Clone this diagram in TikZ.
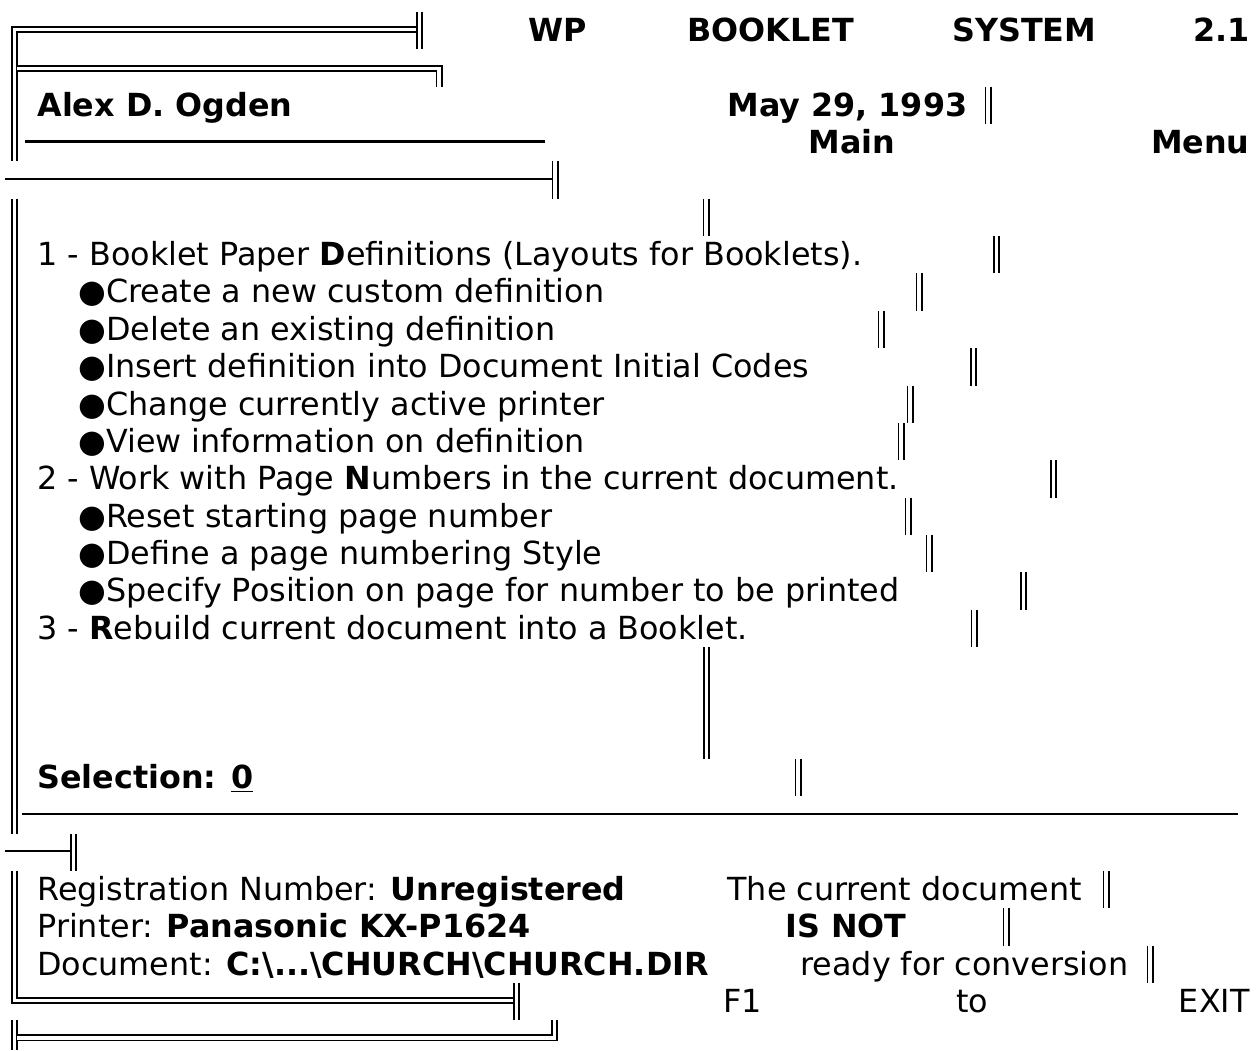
\documentclass[tikz,border=0pt]{standalone}
\usepackage{fontspec}
\setmainfont{DejaVu Sans}
\usepackage{tikz}
\usetikzlibrary{positioning}

\begin{document}
\begin{tikzpicture}[x=0.5pt,y=-0.5pt,
    txt/.style={anchor=base west,inner sep=0pt,font=\fontsize{15.9}{19}\selectfont},
    txtr/.style={txt,anchor=base east},
    hd/.style={txt,font=\fontsize{15.9}{19}\selectfont\bfseries},
    hdr/.style={hd,anchor=base east},
    dbl/.style={draw=black,double=white,line width=0.95pt,double distance=1.6pt},
    sgl/.style={draw=black,line width=1.2pt}]
  \useasboundingbox (0,0) rectangle (1257,1050);

  % Title frame
  \draw[dbl] (417,29.5) -- (14.5,29.5) -- (14.5,161.4);
  \draw[dbl] (419.5,12) -- (419.5,49.35);
  \draw[dbl] (17,68.1) -| (439,86.7);
  \node[hd] (wp) at (528,41.5) {WP};
  \node[hd] (booklet) at (687,41.5) {BOOKLET};
  \node[hd] (system) at (952,41.5) {SYSTEM};
  \node[hdr] (version) at (1250,41.5) {2.1};

  % Author and date
  \node[hd] (author) at (37,116.2) {Alex D. Ogden};
  \node[hd] (date) at (727,116.2) {May 29, 1993};
  \draw[dbl] (988,86.7) -- (988,124.05);

  % Main menu heading
  \draw[sgl] (25,141.55) -- (545,141.55);
  \node[hd] (main) at (808,153.5) {Main};
  \node[hdr] (menu) at (1250,153.5) {Menu};
  \draw[sgl] (5,178.9) -- (552,178.9);
  \draw[dbl] (555,161.4) -- (555,198.75);

  % Menu body frame
  \draw[dbl] (14.5,198.75) -- (14.5,833.7);
  \draw[dbl] (706,198.75) -- (706,236.1);

  % Option 1
  \node[txt] (opt1) at (37,265.6) {1 - Booklet Paper \textbf{D}efinitions (Layouts for Booklets).};
  \draw[dbl] (996.5,236.1) -- (996.5,273.45);
  \node[txt] (create) at (78,302.9) {●Create a new custom definition};
  \draw[dbl] (919,273.45) -- (919,310.8);
  \node[txt] (delete) at (78,340.3) {●Delete an existing definition};
  \draw[dbl] (881,310.8) -- (881,348.15);
  \node[txt] (insert) at (78,377.6) {●Insert definition into Document Initial Codes};
  \draw[dbl] (973.5,348.15) -- (973.5,385.5);
  \node[txt] (printer) at (78,415) {●Change currently active printer};
  \draw[dbl] (910,385.5) -- (910,422.85);
  \node[txt] (view) at (78,452.3) {●View information on definition};
  \draw[dbl] (901,422.85) -- (901,460.2);

  % Option 2
  \node[txt] (opt2) at (37,489.7) {2 - Work with Page \textbf{N}umbers in the current document.};
  \draw[dbl] (1053.5,460.2) -- (1053.5,497.55);
  \node[txt] (reset) at (78,527) {●Reset starting page number};
  \draw[dbl] (908,497.55) -- (908,534.9);
  \node[txt] (style) at (78,564.4) {●Define a page numbering Style};
  \draw[dbl] (929,534.9) -- (929,572.25);
  \node[txt] (position) at (78,601.7) {●Specify Position on page for number to be printed};
  \draw[dbl] (1023.5,572.25) -- (1023.5,609.6);

  % Option 3
  \node[txt] (opt3) at (37,639.1) {3 - \textbf{R}ebuild current document into a Booklet.};
  \draw[dbl] (974,609.6) -- (974,646.95);
  \draw[dbl] (706.5,646.95) -- (706.5,759);

  % Selection line
  \node[hd] (selection) at (37,788.5) {Selection: \underline{0}};
  \draw[dbl] (798,759) -- (798,796.35);
  \draw[sgl] (22,813.85) -- (1238,813.85);
  \draw[sgl] (5,851.2) -- (70,851.2);
  \draw[dbl] (73.5,833.7) -- (73.5,871.05);

  % Status box
  \draw[dbl] (14.5,871.05) |- (513,1000.6);
  \draw[dbl] (516.5,983.1) -- (516.5,1020.45);
  \node[txt] (reg) at (37,900.5) {Registration Number: \textbf{Unregistered}};
  \node[txt] (cur) at (727,900.5) {The current document};
  \draw[dbl] (1106,871.05) -- (1106,908.4);
  \node[txt] (prn) at (37,937.9) {Printer: \textbf{Panasonic KX-P1624}};
  \node[hd] (isnot) at (785,937.9) {IS NOT};
  \draw[dbl] (1006,908.4) -- (1006,945.75);
  \node[txt] (doc) at (37,975.2) {Document: \textbf{C:\textbackslash...\textbackslash CHURCH\textbackslash CHURCH.DIR}};
  \node[txt] (ready) at (800,975.2) {ready for conversion};
  \draw[dbl] (1150,945.75) -- (1150,983.1);

  % Exit line
  \node[txt] (fone) at (723,1012.6) {F1};
  \node[txt] (to) at (956,1012.6) {to};
  \node[txtr] (exit) at (1250,1012.6) {EXIT};
  \draw[dbl] (14.5,1020.45) -- (14.5,1050);
  \draw[dbl] (17,1037.95) -| (554.5,1020.45);
\end{tikzpicture}
\end{document}
